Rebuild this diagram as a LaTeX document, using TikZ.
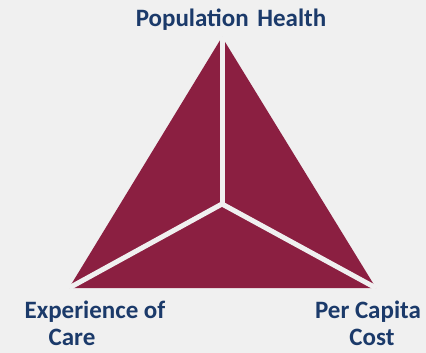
\documentclass[tikz,border=0pt]{standalone}
\usepackage{fontspec}
\setmainfont{Carlito}
\definecolor{maroon}{HTML}{8B1F41}
\definecolor{navy}{HTML}{1B3A6A}
\definecolor{bg}{HTML}{F0F0F0}
\begin{document}
\begin{tikzpicture}[x=1pt,y=-1pt,
  lbl/.style={text=navy,font=\bfseries\fontsize{25}{30}\selectfont,align=center,inner sep=0pt},
  divider/.style={draw=bg,line width=5pt}]
\fill[bg] (0,0) rectangle (426,353);
\useasboundingbox (0,0) rectangle (426,353);
\coordinate (top) at (222,37);
\coordinate (bl) at (69,288);
\coordinate (br) at (376,288);
\coordinate (c) at (222,204);
\fill[maroon] (top) -- (br) -- (bl) -- cycle;
\draw[divider] (c) -- (top);
\draw[divider] (c) -- (bl);
\draw[divider] (c) -- (br);
\node[lbl,anchor=base] (ph) at (231,27) {Population\hspace{3pt} Health};
\node[lbl,anchor=base] (ex) at (95,318) {Experience of};
\node[lbl,anchor=base] (ca) at (72,345) {Care};
\node[lbl,anchor=base] (pc) at (368,318) {Per Capita};
\node[lbl,anchor=base] (co) at (372,345) {Cost};
\end{tikzpicture}
\end{document}
